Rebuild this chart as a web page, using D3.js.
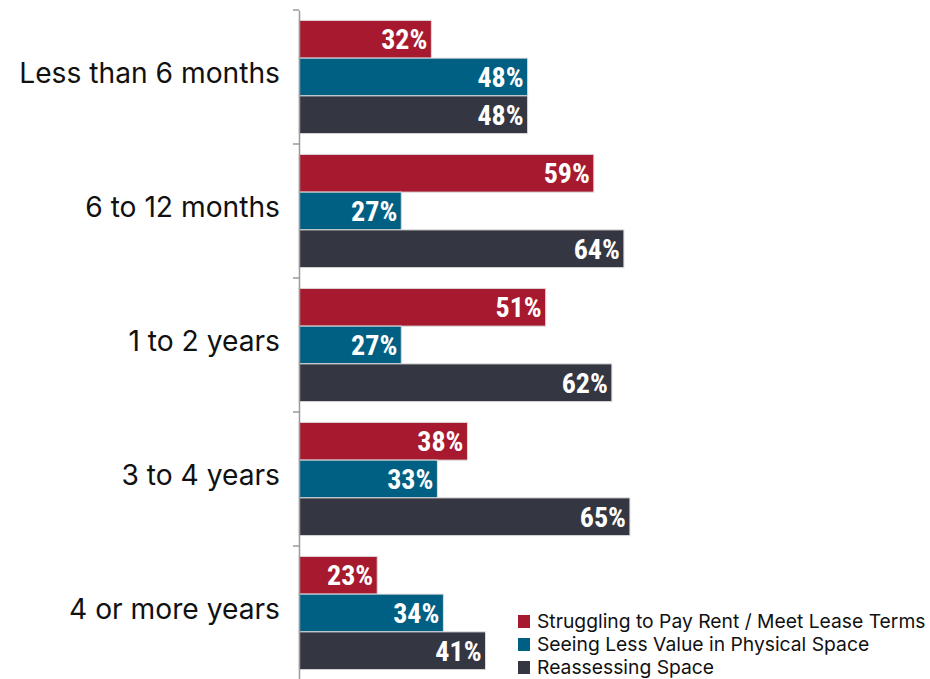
<!DOCTYPE html>
<html>
<head>
<meta charset="utf-8">
<script src="https://cdn.jsdelivr.net/npm/d3@7"></script>
<style>
  html, body { margin: 0; padding: 0; background: #fff; }
  svg { display: block; }
</style>
</head>
<body>
<svg id="chart" width="930" height="679"></svg>
<script>
// Time horizons (rows) and the three response series
const categories = ["Less than 6 months", "6 to 12 months", "1 to 2 years", "3 to 4 years", "4 or more years"];
const seriesNames = ["Struggling to Pay Rent / Meet Lease Terms", "Seeing Less Value in Physical Space", "Reassessing Space"];
const struggling = [32, 59, 51, 38, 23];
const lessValue  = [48, 27, 27, 33, 34];
const reassessing = [48, 64, 62, 65, 41];
const colors = ["#A6192E", "#006083", "#343641"];

const seriesValues = [struggling, lessValue, reassessing];
const rows = categories.map((c, i) => ({
  category: c,
  values: seriesValues.map((vals, s) => ({ series: s, value: vals[i] }))
}));

const svg = d3.select("#chart");
const axisX = 299;
const textFont = "Inter, Roboto, 'Noto Sans', sans-serif";

const y = d3.scaleBand()
  .domain(categories)
  .range([10, 680])
  .paddingInner(0.155)
  .paddingOuter(0.0775);

const ySub = d3.scaleBand()
  .domain(d3.range(seriesNames.length))
  .range([0, y.bandwidth()]);

const x = d3.scaleLinear()
  .domain([10, 70])
  .range([axisX, 660]);

// Bars
const groups = svg.append("g").selectAll("g")
  .data(rows)
  .join("g")
  .attr("transform", d => `translate(0,${y(d.category)})`);

groups.selectAll("rect")
  .data(d => d.values)
  .join("rect")
  .attr("x", axisX)
  .attr("y", d => ySub(d.series))
  .attr("width", d => x(d.value) - axisX)
  .attr("height", ySub.bandwidth())
  .attr("fill", d => colors[d.series])
  .attr("stroke", "#dcdcdc")
  .attr("stroke-width", 1);

// Value labels inside the bar ends
groups.selectAll("text")
  .data(d => d.values)
  .join("text")
  .attr("x", d => x(d.value) - 4)
  .attr("y", d => ySub(d.series) + ySub.bandwidth() / 2)
  .attr("dy", "0.36em")
  .attr("text-anchor", "end")
  .attr("fill", "#fff")
  .style("font-family", "'Liberation Sans Narrow', 'Roboto Condensed', 'Arial Narrow', sans-serif")
  .style("font-weight", "bold")
  .style("font-size", "28px")
  .text(d => d.value + "%");

// Category axis on the left
const axis = d3.axisLeft(y)
  .tickSize(0)
  .tickPadding(19)
  .tickSizeOuter(0);

const axisG = svg.append("g")
  .attr("transform", `translate(${axisX},0)`)
  .call(axis);

axisG.select(".domain").attr("stroke", "#9a9a9a").attr("stroke-width", 1.5);
axisG.selectAll(".tick text")
  .attr("dy", "0.2em")
  .attr("fill", "#111")
  .style("font-family", textFont)
  .style("font-size", "28.2px");

// Separator ticks between groups
const boundaries = categories.map(c => y(c) - y.step() * y.paddingInner() / 2);
svg.append("g").selectAll("line")
  .data(boundaries)
  .join("line")
  .attr("x1", axisX - 6)
  .attr("x2", axisX)
  .attr("y1", d => d)
  .attr("y2", d => d)
  .attr("stroke", "#9a9a9a")
  .attr("stroke-width", 1.5);

// Legend
const legend = svg.append("g").attr("transform", "translate(518,615)");
const items = legend.selectAll("g")
  .data(seriesNames)
  .join("g")
  .attr("transform", (d, i) => `translate(0,${i * 23})`);
items.append("rect")
  .attr("width", 12)
  .attr("height", 13)
  .attr("fill", (d, i) => colors[i]);
items.append("text")
  .attr("x", 19)
  .attr("y", 6.5)
  .attr("dy", "0.35em")
  .attr("fill", "#111")
  .style("font-family", textFont)
  .style("font-size", "19.3px")
  .text(d => d);
</script>
</body>
</html>
